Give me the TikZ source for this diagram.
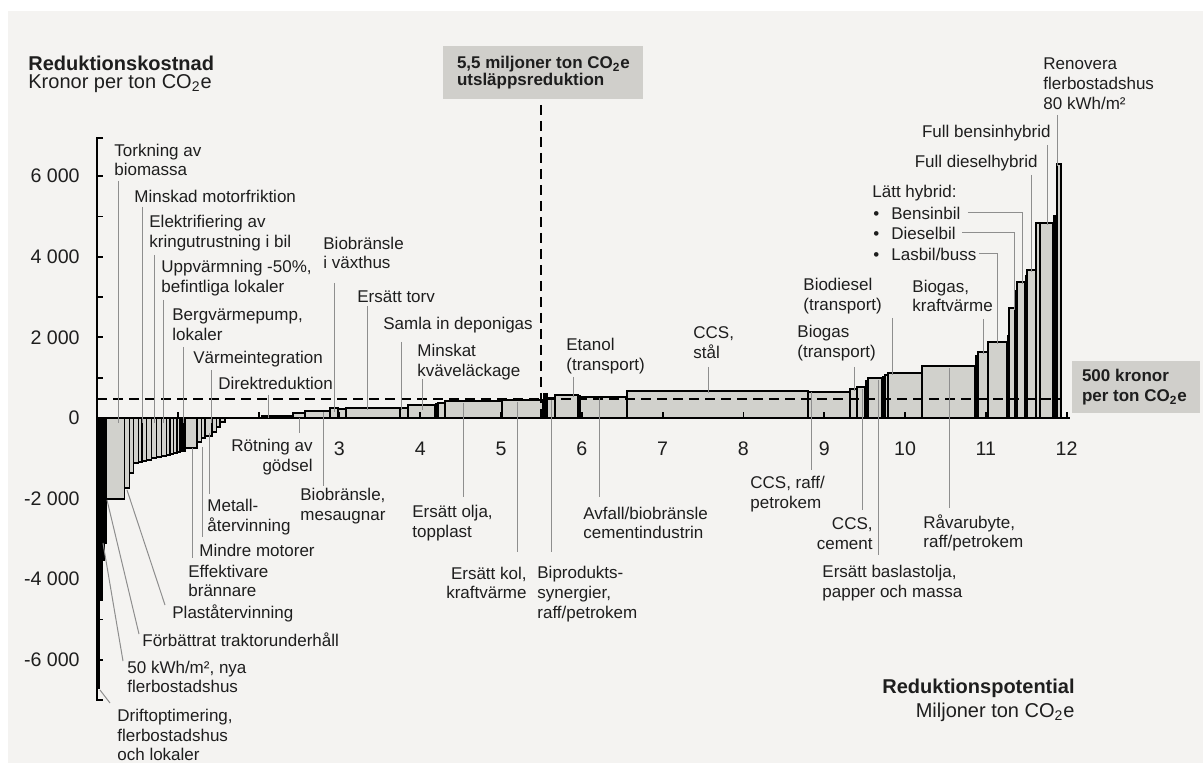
\documentclass[tikz,border=0pt]{standalone}
\usepackage{fontspec}
\setmainfont{Liberation Sans}
\usetikzlibrary{calc}
\definecolor{bgc}{HTML}{F4F3F1}
\definecolor{barfill}{HTML}{D1D1CC}
\definecolor{boxfill}{HTML}{D0CFCB}
\definecolor{leadc}{HTML}{8E8E8E}
\definecolor{ink}{HTML}{1E1E1E}
\newcommand{\lblfont}{\fontsize{8.5}{9.9}\selectfont}
\newcommand{\boxfont}{\bfseries\fontsize{8.5}{8.6}\selectfont}
\newcommand{\numfont}{\fontsize{9.8}{11}\selectfont}
\newcommand{\ttlfont}{\fontsize{10}{12}\selectfont}
\newcommand{\COe}{CO\textsubscript{2}e}
\begin{document}
\begin{tikzpicture}[x=0.5pt,y=-0.5pt,
  bar/.style={fill=barfill, draw=black, line width=0.7pt},
  blackbar/.style={fill=black, draw=black, line width=0.4pt},
  leader/.style={draw=leadc, line width=0.5pt},
  axisline/.style={draw=black, line width=0.9pt},
  refdash/.style={draw=black, line width=0.65pt, dash pattern=on 5pt off 3pt},
  lbl/.style={font=\lblfont, text=ink, inner sep=0pt, align=left},
  numlbl/.style={font=\numfont, text=ink, inner sep=0pt},
  ttl/.style={font=\ttlfont, text=ink, inner sep=0pt},
  boxbg/.style={fill=boxfill, inner sep=0pt},
  boxlbl/.style={font=\boxfont, text=ink, align=left, inner sep=0pt}]
\useasboundingbox (0,0) rectangle (1203,763);
\fill[white] (0,0) rectangle (1203,763);
\fill[bgc] (8,11) rectangle (1203,763);

% bars (gray)
\foreach \a/\b/\c in {106.5/124.5/499, 124.5/129.5/488, 129.5/133.5/473, 133.5/138.5/463,
  138.5/142/462, 142/146.5/461, 146.5/151.5/460, 151.5/156.5/458, 156.5/161.5/457,
  161.5/166.5/456, 166.5/170/455, 170/173.5/454, 173.5/177/453, 177/180/452,
  185.5/197/448, 197/201.5/442, 201.5/205/438, 205/212/436, 212/216.5/432,
  216.5/220/427, 220/225/422,
  262/293/416, 293/305/413, 305/330/411, 330/338/408, 338/346/409, 346/400/408,
  400/408/408, 408/435/405, 438/445/403, 445/502/401, 502/543/400, 547/555/398,
  555/578/395, 580/627/397, 627/808/391, 808/850/392, 850/857/389, 857/865/387,
  868/882/378, 885/888/375, 888/922/373, 922/975/366, 978/988/352, 988/1007/342,
  1009/1015/308, 1017/1025/282, 1027/1036/270, 1036/1040/223, 1040/1053/223,
  1057/1061/164}
  \path[bar] (\a,418) rectangle (\b,\c);
% bars (black, narrow)
\foreach \a/\b/\c in {97/99.5/688, 99.5/102/600, 102/104/560, 104/106.5/543,
  180/185.5/451, 435/438/403, 543/547/393, 578/580/395, 865/868/380, 882/885/376,
  975/978/355, 1007/1009/335, 1015/1017/290, 1025/1027/275, 1053/1057/215}
  \path[blackbar] (\a,418) rectangle (\b,\c);

% reference lines
\draw[refdash] (97,399) -- (1062,399);
\draw[refdash] (541,105) -- (541,418);

% axes
\draw[axisline] (97,418) -- (1070,418);
\draw[axisline] (103,138) -- (97,138) -- (97,700) -- (103,700);
\foreach \v in {-6,...,6}
  \draw[axisline] (97,{418-40.3*(\v)}) -- ++(6,0);
\foreach \k in {1,...,12}
  \draw[axisline] ({97+80.8*\k},418) -- ++(0,-6);

% axis numbers
\foreach \v/\t in {6/6 000, 4/4 000, 2/2 000, 0/0, -2/-2 000, -4/-4 000, -6/-6 000}
  \node[numlbl, anchor=east] (ylab\v) at (80,{418-40.3*(\v)}) {\t};
\foreach \k in {3,...,12}
  \node[numlbl] (xlab\k) at ({97+80.8*\k},449) {\k};

% titles
\node[ttl, anchor=west, font=\ttlfont\bfseries] (ytitle) at (28,63) {Reduktionskostnad};
\node[ttl, anchor=west] (yunit) at (28,84) {Kronor per ton \COe};
\node[ttl, anchor=east, font=\ttlfont\bfseries] (xtitle) at (1075,688) {Reduktionspotential};
\node[ttl, anchor=east] (xunit) at (1075,712) {Miljoner ton \COe};

% boxes
\node[boxbg, minimum width=100pt, minimum height=26.5pt] (box55) at (543,72.5) {};
\node[boxlbl, anchor=west] (box55t) at ([xshift=7pt]box55.west) {5,5 miljoner ton \COe\\utsläppsreduktion};
\node[boxbg, minimum width=64pt, minimum height=26pt] (box500) at (1136,387) {};
\node[boxlbl, anchor=west, font=\bfseries\fontsize{8.5}{10}\selectfont] (box500t) at ([xshift=5pt]box500.west) {500 kronor\\per ton \COe};

% labels, left column
\node[lbl, anchor=west] (tork) at (114,160) {Torkning av\\biomassa};
\node[lbl, anchor=west] (minsk) at (134,196) {Minskad motorfriktion};
\node[lbl, anchor=west] (elek) at (149,233) {Elektrifiering av\\kringutrustning i bil};
\node[lbl, anchor=west] (uppv) at (161,278) {Uppvärmning -50\%,\\befintliga lokaler};
\node[lbl, anchor=west] (berg) at (172,325) {Bergvärmepump,\\lokaler};
\node[lbl, anchor=west] (varm) at (193,359) {Värmeintegration};
\node[lbl, anchor=west] (dirk) at (218,383) {Direktreduktion};
\node[lbl, anchor=west] (metall) at (207,517) {Metall-\\återvinning};
\node[lbl, anchor=west] (mindre) at (199,550) {Mindre motorer};
\node[lbl, anchor=west] (effekt) at (188,581) {Effektivare\\brännare};
\node[lbl, anchor=west] (plast) at (172,613) {Plaståtervinning};
\node[lbl, anchor=west] (forb) at (142,640) {Förbättrat traktorunderhåll};
\node[lbl, anchor=west] (kwh) at (127,677) {50 kWh/m², nya\\flerbostadshus};
\node[lbl, anchor=west] (drift) at (117,735) {Driftoptimering,\\flerbostadshus\\och lokaler};

% labels, middle
\node[lbl, anchor=east, align=right] (rotn) at (313,457) {Rötning av\\gödsel};
\node[lbl, anchor=west] (biomes) at (300,506) {Biobränsle,\\mesaugnar};
\node[lbl, anchor=west] (olja) at (412,523) {Ersätt olja,\\topplast};
\node[lbl, anchor=east, align=right] (kol) at (527,583) {Ersätt kol,\\kraftvärme};
\node[lbl, anchor=west] (bipr) at (537,594) {Biprodukts-\\synergier,\\raff/petrokem};
\node[lbl, anchor=west] (avf) at (583,523) {Avfall/biobränsle\\cementindustrin};
\node[lbl, anchor=west] (ccsr) at (750,494) {CCS, raff/\\petrokem};
\node[lbl, anchor=east, align=right] (ccsc) at (873,534) {CCS,\\cement};
\node[lbl, anchor=west] (ersb) at (822,583) {Ersätt baslastolja,\\papper och massa};
\node[lbl, anchor=west] (ravar) at (923,533) {Råvarubyte,\\raff/petrokem};
\node[lbl, anchor=west] (biovx) at (323,253) {Biobränsle\\i växthus};
\node[lbl, anchor=west] (torv) at (357,297) {Ersätt torv};
\node[lbl, anchor=west] (depo) at (383,325) {Samla in deponigas};
\node[lbl, anchor=west] (kvav) at (417,362) {Minskat\\kväveläckage};
\node[lbl, anchor=west] (etan) at (566,356) {Etanol\\(transport)};
\node[lbl, anchor=west] (ccss) at (693,343) {CCS,\\stål};
\node[lbl, anchor=west] (biogt) at (797,343) {Biogas\\(transport)};
\node[lbl, anchor=west] (biod) at (803,296) {Biodiesel\\(transport)};
\node[lbl, anchor=west] (biogk) at (912,296) {Biogas,\\kraftvärme};

% labels, right
\node[lbl, anchor=west] (renov) at (1043,84) {Renovera\\flerbostadshus\\80 kWh/m²};
\node[lbl, anchor=east] (fbens) at (1051,133) {Full bensinhybrid};
\node[lbl, anchor=east] (fdies) at (1038,163) {Full dieselhybrid};
\node[lbl, anchor=west] (latt) at (872,193) {Lätt hybrid:};
\node[lbl, anchor=west] (bensb) at (873,213) {\textbullet\hspace{6pt}Bensinbil};
\node[lbl, anchor=west] (diesb) at (873,233) {\textbullet\hspace{6pt}Dieselbil};
\node[lbl, anchor=west] (lasb) at (873,254) {\textbullet\hspace{6pt}Lasbil/buss};

% vertical leaders
\foreach \n/\x/\a/\b in {tork/118/181/423, minsk/142/207/423, elek/154/255/423,
  uppv/163/300/423, berg/183/347/423, varm/211/370/423, dirk/268/395/418,
  metall/209/433/494, mindre/202/447/537, effekt/192/448/558,
  rotn/299/418/433, biomes/323/412/486, olja/463/403/497, kol/517/402/552,
  bipr/551/400/552, avf/599/398/497, ccsr/811/392/470, ccsc/862/389/510,
  ersb/878/380/555, ravar/949/368/508,
  biovx/334/283/412, torv/367/306/410, depo/401/342/410, kvav/422/379/410,
  etan/573/377/397, ccss/708/367/393, biogt/854/367/391, biod/892/318/375,
  biogk/983/319/354, renov/1057/115/166, fbens/1047/145/225, fdies/1031/175/272}
{
  \coordinate (\n-a) at (\x,\a);
  \coordinate (\n-b) at (\x,\b);
  \draw[leader] (\n-a) -- (\n-b);
}
% diagonal leaders
\foreach \n/\xa/\ya/\xb/\yb in {plast/165/605/127/490, forb/139/634/107/500,
  kwh/123/661/103/543, drift/110/703/100/690}
{
  \coordinate (\n-a) at (\xa,\ya);
  \coordinate (\n-b) at (\xb,\yb);
  \draw[leader] (\n-a) -- (\n-b);
}
% elbow leaders of the light hybrids
\coordinate (bensb-end) at (1022,284);
\coordinate (diesb-end) at (1014,310);
\coordinate (lasb-end) at (997,344);
\draw[leader] ([xshift=3.5pt]bensb.east) -| (bensb-end);
\draw[leader] ([xshift=3pt]diesb.east) -| (diesb-end);
\draw[leader] ([xshift=1pt]lasb.east) -| (lasb-end);
\end{tikzpicture}
\end{document}
